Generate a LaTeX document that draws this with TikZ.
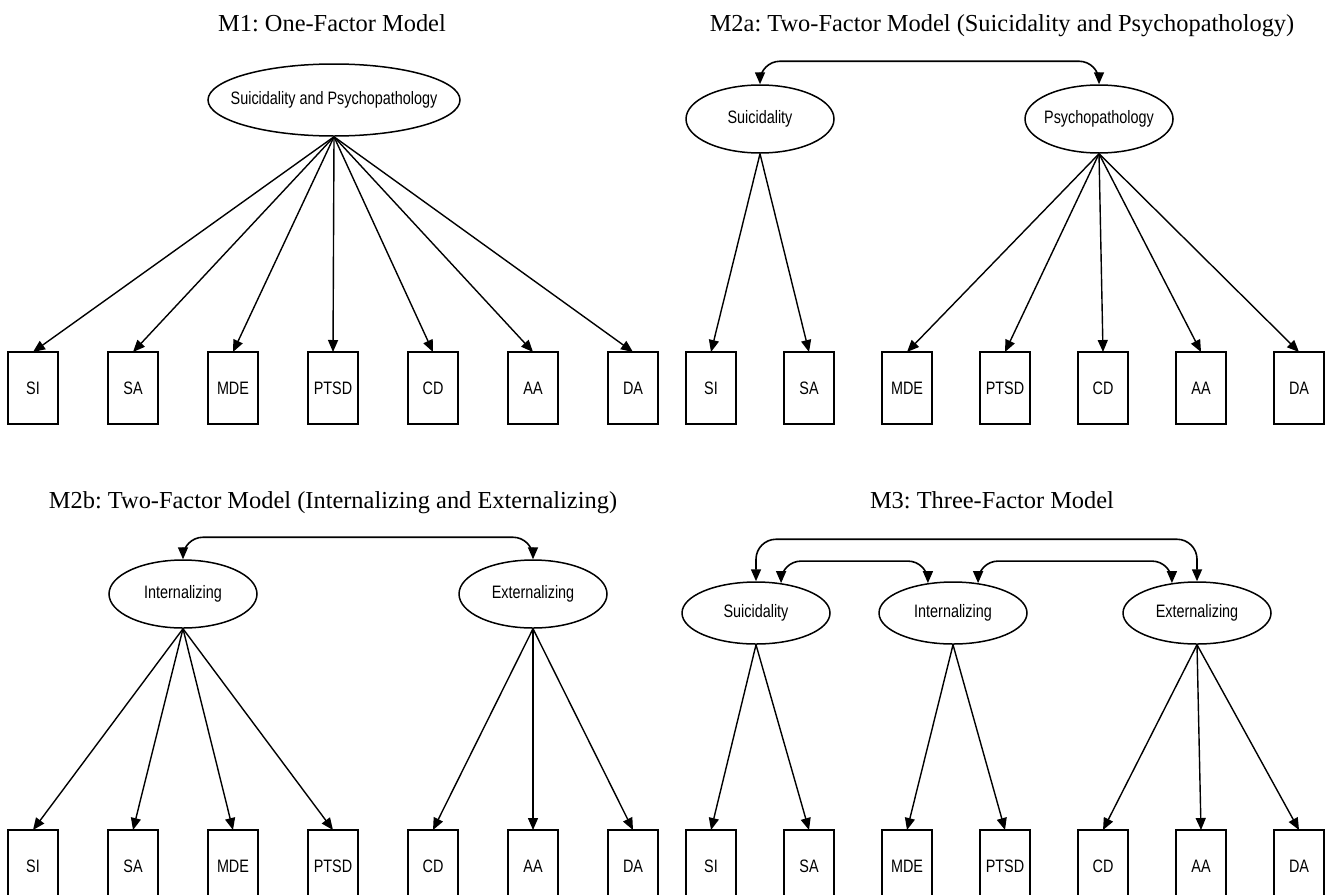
\documentclass[tikz,border=0pt]{standalone}
\usepackage{fontspec}
\setmainfont{Liberation Serif}
\newfontfamily\narrowsans[FakeStretch=0.8]{Liberation Sans}
\usetikzlibrary{shapes.geometric, arrows.meta, positioning}
\frenchspacing

\begin{document}
\begin{tikzpicture}
        [
        x=0.5pt, y=-0.5pt,
        node distance=25pt and 25pt,
        title/.style={font=\fontsize{12.2}{14}\selectfont, anchor=base},
        indicator/.style={draw, rectangle, line width=0.9pt, outer sep=0pt, inner sep=0pt, minimum width=25pt, minimum height=36pt, font=\narrowsans\fontsize{9}{11}\selectfont},
        factor/.style={draw, ellipse, line width=0.75pt, inner xsep=-10pt, inner ysep=0pt, minimum width=74pt, minimum height=34pt, font=\narrowsans\fontsize{9}{11}\selectfont},
        arrow/.style={-{Triangle[length=6pt, width=5pt]}, line width=0.7pt},
        covar/.style={{Triangle[length=6pt, width=5pt]}-{Triangle[length=6pt, width=5pt]}, line width=0.8pt, rounded corners=10pt}
        ]
        \useasboundingbox (0,0) rectangle (1325,894);

        % Titles
        \node (m1title) [title] at (332,31) {M1: One-Factor Model};
        \node (m2atitle) [title] at (1002,31) {M2a: Two-Factor Model (Suicidality and Psychopathology)};
        \node (m2btitle) [title] at (333,508) {M2b: Two-Factor Model (Internalizing and Externalizing)};
        \node (m3title) [title] at (992,508) {M3: Three-Factor Model};

        % M1
        \node (sp1) [factor, minimum width=126pt, minimum height=36pt] at (334,100) {Suicidality and Psychopathology};
        \node (si1) [indicator] at (33,388) {SI};
        \node (sa1) [indicator, right=of si1] {SA};
        \node (mde1) [indicator, right=of sa1] {MDE};
        \node (ptsd1) [indicator, right=of mde1] {PTSD};
        \node (cd1) [indicator, right=of ptsd1] {CD};
        \node (aa1) [indicator, right=of cd1] {AA};
        \node (da1) [indicator, right=of aa1] {DA};

        % M2a
        \node (suic2a) [factor] at (760,119) {Suicidality};
        \node (psy2a) [factor] at (1099,119) {Psychopathology};
        \node (si2a) [indicator] at (711,388) {SI};
        \node (sa2a) [indicator, right=24pt of si2a] {SA};
        \node (mde2a) [indicator, right=24pt of sa2a] {MDE};
        \node (ptsd2a) [indicator, right=24pt of mde2a] {PTSD};
        \node (cd2a) [indicator, right=24pt of ptsd2a] {CD};
        \node (aa2a) [indicator, right=24pt of cd2a] {AA};
        \node (da2a) [indicator, right=24pt of aa2a] {DA};

        % M2b
        \node (int2b) [factor] at (183,594) {Internalizing};
        \node (ext2b) [factor] at (533,594) {Externalizing};
        \node (si2b) [indicator] at (33,866) {SI};
        \node (sa2b) [indicator, right=of si2b] {SA};
        \node (mde2b) [indicator, right=of sa2b] {MDE};
        \node (ptsd2b) [indicator, right=of mde2b] {PTSD};
        \node (cd2b) [indicator, right=of ptsd2b] {CD};
        \node (aa2b) [indicator, right=of cd2b] {AA};
        \node (da2b) [indicator, right=of aa2b] {DA};

        % M3
        \node (suic3) [factor, minimum height=31pt] at (756,613) {Suicidality};
        \node (int3) [factor, minimum height=31pt] at (953,613) {Internalizing};
        \node (ext3) [factor, minimum height=31pt] at (1197,613) {Externalizing};
        \node (si3) [indicator] at (711,866) {SI};
        \node (sa3) [indicator, right=24pt of si3] {SA};
        \node (mde3) [indicator, right=24pt of sa3] {MDE};
        \node (ptsd3) [indicator, right=24pt of mde3] {PTSD};
        \node (cd3) [indicator, right=24pt of ptsd3] {CD};
        \node (aa3) [indicator, right=24pt of cd3] {AA};
        \node (da3) [indicator, right=24pt of aa3] {DA};

        % Edges
        \draw [arrow] (sp1.south) -- (si1.north);
        \draw [arrow] (sp1.south) -- (sa1.north);
        \draw [arrow] (sp1.south) -- (mde1.north);
        \draw [arrow] (sp1.south) -- (ptsd1.north);
        \draw [arrow] (sp1.south) -- (cd1.north);
        \draw [arrow] (sp1.south) -- (aa1.north);
        \draw [arrow] (sp1.south) -- (da1.north);

        \draw [arrow] (suic2a.south) -- (si2a.north);
        \draw [arrow] (suic2a.south) -- (sa2a.north);
        \draw [arrow] (psy2a.south) -- (mde2a.north);
        \draw [arrow] (psy2a.south) -- (ptsd2a.north);
        \draw [arrow] (psy2a.south) -- (cd2a.north);
        \draw [arrow] (psy2a.south) -- (aa2a.north);
        \draw [arrow] (psy2a.south) -- (da2a.north);

        \draw [arrow] (int2b.south) -- (si2b.north);
        \draw [arrow] (int2b.south) -- (sa2b.north);
        \draw [arrow] (int2b.south) -- (mde2b.north);
        \draw [arrow] (int2b.south) -- (ptsd2b.north);
        \draw [arrow] (ext2b.south) -- (cd2b.north);
        \draw [arrow] (ext2b.south) -- (aa2b.north);
        \draw [arrow] (ext2b.south) -- (da2b.north);

        \draw [arrow] (suic3.south) -- (si3.north);
        \draw [arrow] (suic3.south) -- (sa3.north);
        \draw [arrow] (int3.south) -- (mde3.north);
        \draw [arrow] (int3.south) -- (ptsd3.north);
        \draw [arrow] (ext3.south) -- (cd3.north);
        \draw [arrow] (ext3.south) -- (aa3.north);
        \draw [arrow] (ext3.south) -- (da3.north);

        % Correlations
        \draw [covar] (suic2a.north) -- ++(0,-23) -| (psy2a.north);
        \draw [covar] (int2b.north) -- ++(0,-22) -| (ext2b.north);
        \draw [covar] (suic3.north) -- ++(0,-42) -| (ext3.north);
        \draw [covar] (suic3.50) -- ++(0,-22) -| (int3.130);
        \draw [covar] (int3.50) -- ++(0,-22) -| (ext3.130);

    \end{tikzpicture}
\end{document}
